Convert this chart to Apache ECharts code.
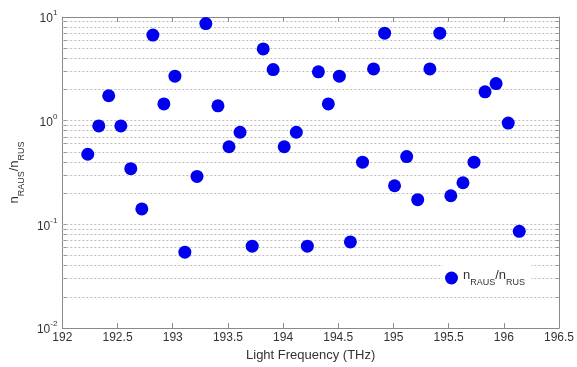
<!DOCTYPE html>
<html>
<head>
<meta charset="utf-8">
<script src="https://cdn.jsdelivr.net/npm/echarts@6/dist/echarts.min.js"></script>
<style>html,body{margin:0;padding:0;background:#fff}#c{width:577px;height:367px}</style>
</head>
<body>
<div id="c"></div>
<script>
// Light frequency (THz)
var freq = [192.23,192.33,192.42,192.53,192.62,192.72,192.82,192.92,193.02,193.11,
            193.22,193.30,193.41,193.51,193.61,193.72,193.82,193.91,194.01,194.12,
            194.22,194.32,194.41,194.51,194.61,194.72,194.82,194.92,195.01,195.12,
            195.22,195.33,195.42,195.52,195.63,195.73,195.83,195.93,196.04,196.14];
// n_RAUS / n_RUS ratio
var ratio = [0.475,0.89,1.74,0.89,0.345,0.141,6.69,1.45,2.69,0.054,
             0.29,8.64,1.39,0.561,0.774,0.0617,4.92,3.11,0.561,0.774,
             0.0617,2.96,1.45,2.69,0.0678,0.398,3.16,6.98,0.236,0.451,
             0.173,3.16,6.98,0.189,0.252,0.398,1.90,2.28,0.949,0.0857];
// grid line / minor tick values on log axis
var gridValues = [];
[0.01,0.1,1].forEach(function(d){ for (var k=2;k<=9;k++) gridValues.push(+(d*k).toPrecision(3)); });
var majorValues = [0.1,1];
var yTicks = [0.01,0.1,1,10];

var chart = echarts.init(document.getElementById('c'));
var font = 'Liberation Sans, Arial, sans-serif';
var axisCol = '#8a8a8a';
var txtCol = '#333';

var data = freq.map(function(f,i){ return [f, ratio[i]]; });
var gridLines = gridValues.concat(majorValues).map(function(v){ return {yAxis: v}; });

function expLabel(v){
  var e = Math.round(Math.log10(v));
  return '{b|10}{s|' + e + '}';
}
var labelRich = {
  b: {fontSize: 12, fontFamily: font, color: txtCol, lineHeight: 16, verticalAlign: 'bottom'},
  s: {fontSize: 8, fontFamily: font, color: txtCol, lineHeight: 16, verticalAlign: 'top', padding:[0,0,0,0]}
};
var nameRich = {
  n: {fontSize: 13, fontFamily: font, color: txtCol, lineHeight: 18, verticalAlign: 'top'},
  u: {fontSize: 9, fontFamily: font, color: txtCol, lineHeight: 18, verticalAlign: 'bottom'}
};
var nameText = '{n|n}{u|RAUS}{n|/n}{u|RUS}';

chart.setOption({
  animation: false,
  backgroundColor: '#fff',
  grid: {left: 50, right: 15, top: 17, bottom: 34, containLabel: false},
  legend: {
    show: true,
    left: 443, top: 265,
    itemWidth: 13, itemHeight: 13, itemGap: 0,
    backgroundColor: '#fff',
    padding: [4, 6, 4, 2],
    data: [{name: 'ratio', icon: 'circle', itemStyle: {opacity: 1}}],
    formatter: function(){ return nameText; },
    textStyle: {rich: nameRich, padding: [0,0,0,0]}
  },
  xAxis: [{
    type: 'value', min: 192, max: 196.5, interval: 0.5,
    axisLine: {show: true, onZero: false, lineStyle: {color: axisCol}},
    axisTick: {show: true, inside: true, length: 5, lineStyle: {color: axisCol}},
    axisLabel: {color: txtCol, fontFamily: font, fontSize: 12, margin: 4},
    splitLine: {show: false},
    name: 'Light Frequency (THz)', nameLocation: 'middle', nameGap: 19,
    nameTextStyle: {color: txtCol, fontFamily: font, fontSize: 13}
  },{
    type: 'value', min: 192, max: 196.5, interval: 0.5, position: 'top',
    axisLine: {show: true, onZero: false, lineStyle: {color: axisCol}},
    axisTick: {show: true, inside: true, length: 5, lineStyle: {color: axisCol}},
    axisLabel: {show: false}, splitLine: {show: false}
  }],
  yAxis: [{
    type: 'log', logBase: 10, min: 0.01, max: 10,
    axisLine: {show: true, onZero: false, lineStyle: {color: axisCol}},
    axisTick: {show: true, inside: true, length: 4, lineStyle: {color: axisCol},
               customValues: yTicks.concat(gridValues)},
    axisLabel: {formatter: expLabel, rich: labelRich, margin: 5, customValues: yTicks},
    splitLine: {show: false},
    name: nameText, nameLocation: 'middle', nameGap: 31, nameRotate: 90,
    nameTextStyle: {rich: nameRich}
  },{
    type: 'log', logBase: 10, min: 0.01, max: 10, position: 'right',
    axisLine: {show: true, onZero: false, lineStyle: {color: axisCol}},
    axisTick: {show: true, inside: true, length: 4, lineStyle: {color: axisCol},
               customValues: yTicks.concat(gridValues)},
    axisLabel: {show: false}, splitLine: {show: false}
  }],
  series: [{
    name: 'ratio',
    type: 'scatter',
    symbol: 'circle',
    symbolSize: 13,
    itemStyle: {color: '#0000ee', opacity: 1},
    data: data,
    z: 5,
    markLine: {
      silent: true, symbol: 'none', animation: false,
      label: {show: false},
      lineStyle: {color: '#bdbdbd', type: [2, 2], width: 1},
      data: gridLines,
      z: 1
    }
  }]
});
</script>
</body>
</html>
